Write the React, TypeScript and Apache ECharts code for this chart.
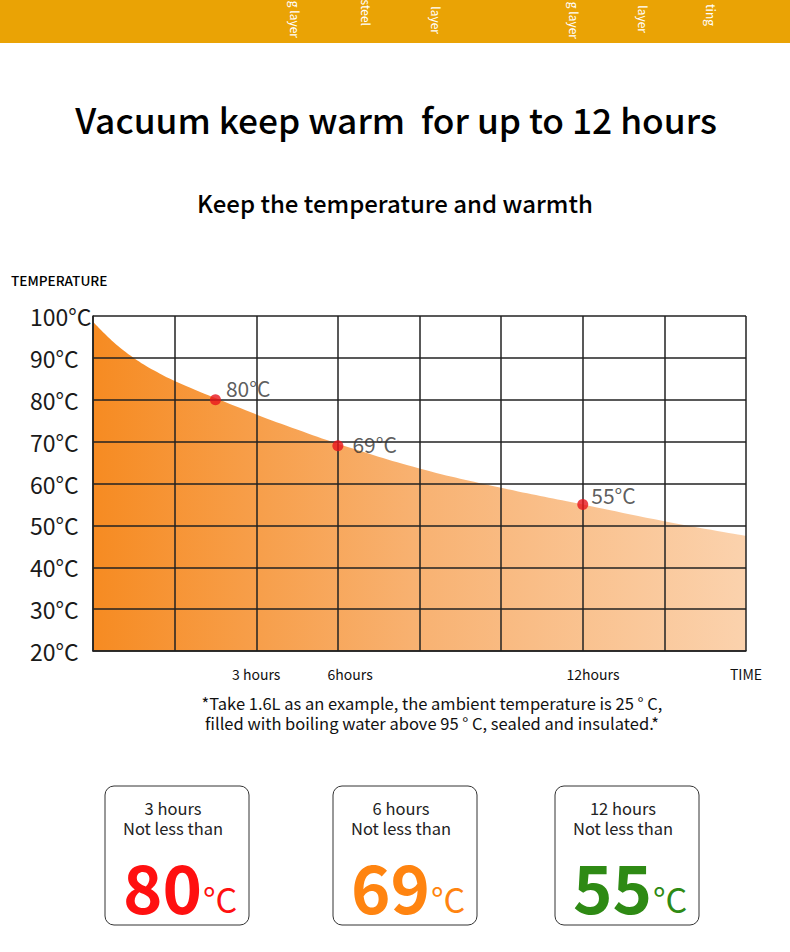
import React, { useEffect, useRef } from "react";
import * as echarts from "echarts";

// ---- data ----
const hours = [0, 0.5, 1, 1.5, 2, 3, 4, 5, 6, 8, 10, 12, 14, 16];
const temps = [98.6, 93.8, 90, 87, 84.5, 80.4, 76.5, 72.9, 69.5, 63.6, 59, 55, 51, 47.5];
const markHours = [3, 6, 12];
const markTemps = [80, 69, 55];
const markLabels = ["80°C", "69°C", "55°C"];
const xLabelValues = [4, 6.3, 12.25, 16];
const xLabelTexts = ["3 hours", "6hours", "12hours", "TIME"];
const yMin = 20;
const yMax = 100;
const yStep = 10;
const xMax = 16;
const xStep = 2;
const boxHours = ["3 hours", "6 hours", "12 hours"];
const boxValues = ["80", "69", "55"];
const bandWords = ["g layer", "steel", "layer", "g layer", "layer", "ting"];

// ---- styling (not data) ----
const FONT = "'Noto Sans CJK SC', 'Noto Sans', sans-serif";
const markOffsets = [[0, -12], [4, -2], [-2, -9]];
const boxColors = ["#ff1010", "#ff8410", "#2e8a14"];
const boxLefts = [105, 333, 555];
const bandX = [295, 366, 436, 574, 643, 711];
const bandEnd = [38, 26, 34, 39, 33, 26];

export default function App() {
  const ref = useRef<HTMLDivElement>(null);
  useEffect(() => {
    document.body.style.margin = "0";
    const chart = echarts.init(ref.current!, undefined, { renderer: "svg" });

    const graphics: any[] = [
      { type: "rect", shape: { x: 0, y: 0, width: 790, height: 43 }, style: { fill: "#eaa305" }, silent: true },
    ];
    bandWords.forEach((w, i) => {
      graphics.push({
        type: "text",
        x: bandX[i],
        y: bandEnd[i],
        rotation: -Math.PI / 2,
        style: { text: w, fontSize: 12, fontFamily: FONT, fill: "#ffffff", textAlign: "right", textVerticalAlign: "middle" },
      });
    });
    graphics.push(
      {
        type: "text", x: 396, y: 118,
        style: { text: "Vacuum keep warm  for up to 12 hours", fontSize: 35.3, fontWeight: 500, fontFamily: FONT, fill: "#000", textAlign: "center", textVerticalAlign: "middle" },
      },
      {
        type: "text", x: 395, y: 202,
        style: { text: "Keep the temperature and warmth", fontSize: 24, fontWeight: 500, fontFamily: FONT, fill: "#000", textAlign: "center", textVerticalAlign: "middle" },
      },
      {
        type: "text", x: 11, y: 280,
        style: { text: "TEMPERATURE", fontSize: 13.6, fontWeight: 500, fontFamily: FONT, fill: "#000", textAlign: "left", textVerticalAlign: "middle" },
      },
      {
        type: "text", x: 432, y: 713,
        style: {
          text: "*Take 1.6L as an example, the ambient temperature is 25 ° C,\nfilled with boiling water above 95 ° C, sealed and insulated.*",
          fontSize: 16.5, lineHeight: 20, fontFamily: FONT, fill: "#111", textAlign: "center", textVerticalAlign: "middle",
        },
      }
    );
    boxHours.forEach((h, i) => {
      const x0 = boxLefts[i];
      const cx = x0 + 72;
      graphics.push(
        { type: "rect", shape: { x: x0, y: 786, width: 144, height: 139, r: 9 }, style: { fill: "#fff", stroke: "#333", lineWidth: 1 } },
        {
          type: "text", x: cx - 4, y: 818,
          style: { text: h + "\nNot less than", fontSize: 16.5, lineHeight: 20, fontFamily: FONT, fill: "#222", textAlign: "center", textVerticalAlign: "middle" },
        },
        { type: "text", x: cx + 25, y: 884, style: { text: boxValues[i], fontSize: 67, fontWeight: "bold", fontFamily: FONT, fill: boxColors[i], textAlign: "right", textVerticalAlign: "middle" } },
        { type: "text", x: cx + 26, y: 898, style: { text: "°C", fontSize: 34, fontFamily: FONT, fill: boxColors[i], textAlign: "left", textVerticalAlign: "middle" } }
      );
    });

    const option: any = {
      animation: false,
      backgroundColor: "#ffffff",
      grid: { left: 93, top: 316, width: 653, height: 335, containLabel: false },
      xAxis: {
        type: "value",
        min: 0,
        max: xMax,
        interval: xStep,
        z: 4,
        axisLine: { show: true, lineStyle: { color: "#222", width: 1.5 } },
        axisTick: { show: false },
        splitLine: { show: true, lineStyle: { color: "#222", width: 1.5 } },
        axisLabel: {
          customValues: xLabelValues,
          formatter: (v: number) => {
            const i = xLabelValues.findIndex((x) => Math.abs(x - v) < 1e-6);
            return i >= 0 ? xLabelTexts[i] : "";
          },
          margin: 16,
          fontSize: 14,
          fontFamily: FONT,
          color: "#111",
          hideOverlap: false,
        },
      },
      yAxis: {
        type: "value",
        min: yMin,
        max: yMax,
        interval: yStep,
        z: 4,
        axisLine: { show: true, lineStyle: { color: "#222", width: 1.5 } },
        axisTick: { show: false },
        splitLine: { show: true, lineStyle: { color: "#222", width: 1.5 } },
        axisLabel: {
          formatter: (v: number) => `${v}°C`,
          align: "left",
          margin: 63,
          fontSize: 23,
          fontFamily: FONT,
          color: "#1a1a1a",
        },
      },
      series: [
        {
          type: "line",
          smooth: 0.4,
          showSymbol: false,
          data: hours.map((h, i) => [h, temps[i]]),
          lineStyle: { width: 0 },
          areaStyle: {
            origin: "start",
            opacity: 1,
            color: new echarts.graphic.LinearGradient(0, 0, 1, 0, [
              { offset: 0, color: "#f68b22" },
              { offset: 0.5, color: "#f8b272" },
              { offset: 1, color: "#fbd2ad" },
            ]),
          },
          z: 1,
        },
        {
          type: "scatter",
          symbolSize: 11,
          itemStyle: { color: "#e8141c" },
          data: markHours.map((h, i) => ({ value: [h, markTemps[i]], label: { offset: markOffsets[i] } })),
          label: {
            show: true,
            position: "right",
            formatter: (p: any) => markLabels[p.dataIndex],
            fontSize: 21,
            fontFamily: FONT,
            color: "#333",
          },
          z: 6,
        },
      ],
      graphic: graphics,
    };
    chart.setOption(option);
    return () => chart.dispose();
  }, []);
  return <div ref={ref} style={{ width: 790, height: 952 }} />;
}
